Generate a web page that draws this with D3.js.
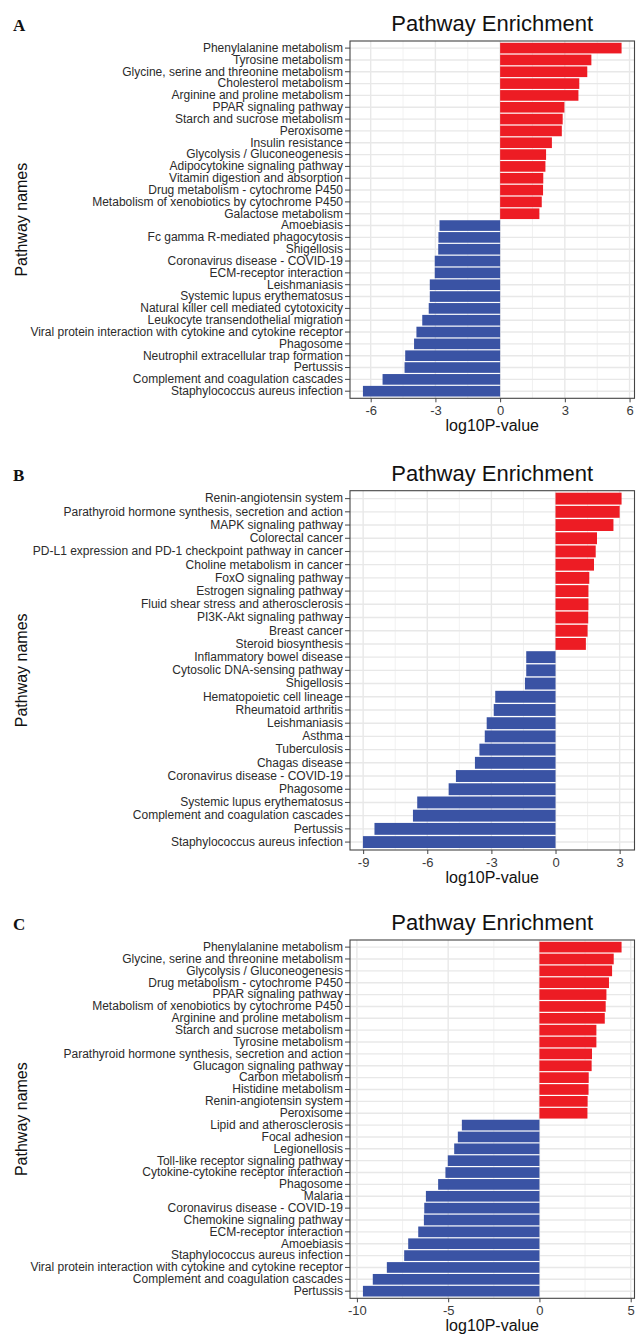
<!DOCTYPE html>
<html>
<head>
<meta charset="utf-8">
<script src="https://cdn.jsdelivr.net/npm/d3@7"></script>
<style>
  html, body { margin: 0; padding: 0; background: #ffffff; }
  svg { display: block; font-family: "Liberation Sans", Arial, sans-serif; }
</style>
</head>
<body>
<svg id="chart" width="636" height="1334"></svg>
<script>
// ---- Panel A ----
const pathwaysA = [
  "Phenylalanine metabolism",
  "Tyrosine metabolism",
  "Glycine, serine and threonine metabolism",
  "Cholesterol metabolism",
  "Arginine and proline metabolism",
  "PPAR signaling pathway",
  "Starch and sucrose metabolism",
  "Peroxisome",
  "Insulin resistance",
  "Glycolysis / Gluconeogenesis",
  "Adipocytokine signaling pathway",
  "Vitamin digestion and absorption",
  "Drug metabolism - cytochrome P450",
  "Metabolism of xenobiotics by cytochrome P450",
  "Galactose metabolism",
  "Amoebiasis",
  "Fc gamma R-mediated phagocytosis",
  "Shigellosis",
  "Coronavirus disease - COVID-19",
  "ECM-receptor interaction",
  "Leishmaniasis",
  "Systemic lupus erythematosus",
  "Natural killer cell mediated cytotoxicity",
  "Leukocyte transendothelial migration",
  "Viral protein interaction with cytokine and cytokine receptor",
  "Phagosome",
  "Neutrophil extracellular trap formation",
  "Pertussis",
  "Complement and coagulation cascades",
  "Staphylococcus aureus infection"
];
const log10pA = [
  5.63, 4.23, 4.04, 3.67, 3.63, 2.98, 2.90, 2.86, 2.40, 2.13, 2.10, 2.00, 1.99, 1.93, 1.82,
  -2.81, -2.86, -2.87, -3.03, -3.03, -3.26, -3.26, -3.31, -3.61, -3.88, -3.99, -4.40, -4.43, -5.45, -6.36
];
const ticksA = [-6, -3, 0, 3, 6];

// ---- Panel B ----
const pathwaysB = [
  "Renin-angiotensin system",
  "Parathyroid hormone synthesis, secretion and action",
  "MAPK signaling pathway",
  "Colorectal cancer",
  "PD-L1 expression and PD-1 checkpoint pathway in cancer",
  "Choline metabolism in cancer",
  "FoxO signaling pathway",
  "Estrogen signaling pathway",
  "Fluid shear stress and atherosclerosis",
  "PI3K-Akt signaling pathway",
  "Breast cancer",
  "Steroid biosynthesis",
  "Inflammatory bowel disease",
  "Cytosolic DNA-sensing pathway",
  "Shigellosis",
  "Hematopoietic cell lineage",
  "Rheumatoid arthritis",
  "Leishmaniasis",
  "Asthma",
  "Tuberculosis",
  "Chagas disease",
  "Coronavirus disease - COVID-19",
  "Phagosome",
  "Systemic lupus erythematosus",
  "Complement and coagulation cascades",
  "Pertussis",
  "Staphylococcus aureus infection"
];
const log10pB = [
  3.09, 3.00, 2.71, 1.94, 1.88, 1.80, 1.58, 1.54, 1.54, 1.53, 1.50, 1.42,
  -1.37, -1.37, -1.43, -2.82, -2.89, -3.22, -3.31, -3.56, -3.77, -4.66, -5.00, -6.47, -6.67, -8.47, -9.01
];
const ticksB = [-9, -6, -3, 0, 3];

// ---- Panel C ----
const pathwaysC = [
  "Phenylalanine metabolism",
  "Glycine, serine and threonine metabolism",
  "Glycolysis / Gluconeogenesis",
  "Drug metabolism - cytochrome P450",
  "PPAR signaling pathway",
  "Metabolism of xenobiotics by cytochrome P450",
  "Arginine and proline metabolism",
  "Starch and sucrose metabolism",
  "Tyrosine metabolism",
  "Parathyroid hormone synthesis, secretion and action",
  "Glucagon signaling pathway",
  "Carbon metabolism",
  "Histidine metabolism",
  "Renin-angiotensin system",
  "Peroxisome",
  "Lipid and atherosclerosis",
  "Focal adhesion",
  "Legionellosis",
  "Toll-like receptor signaling pathway",
  "Cytokine-cytokine receptor interaction",
  "Phagosome",
  "Malaria",
  "Coronavirus disease - COVID-19",
  "Chemokine signaling pathway",
  "ECM-receptor interaction",
  "Amoebiasis",
  "Staphylococcus aureus infection",
  "Viral protein interaction with cytokine and cytokine receptor",
  "Complement and coagulation cascades",
  "Pertussis"
];
const log10pC = [
  4.50, 4.07, 3.98, 3.81, 3.67, 3.63, 3.58, 3.12, 3.12, 2.88, 2.86, 2.70, 2.69, 2.64, 2.63,
  -4.25, -4.47, -4.67, -5.02, -5.15, -5.55, -6.22, -6.31, -6.33, -6.64, -7.19, -7.41, -8.36, -9.13, -9.67
];
const ticksC = [-10, -5, 0, 5];

const panelLetters = ["A", "B", "C"];
const titleText = "Pathway Enrichment";
const xTitle = "log10P-value";
const yTitle = "Pathway names";

const upColor = "#ED1C24";
const downColor = "#3A53A4";

const svg = d3.select("#chart");

function drawPanel(letter, names, values, ticks, top, bottom) {
  const left = 350, right = 634.5;
  const g = svg.append("g");

  // continuous axis: data range (bars start at 0) widened by 5% on each side
  const ext = d3.extent(values.concat([0]));
  const pad = (ext[1] - ext[0]) * 0.05;
  const x = d3.scaleLinear().domain([ext[0] - pad, ext[1] + pad]).range([left, right]);
  const y = d3.scaleBand().domain(names).range([top, bottom])
    .paddingInner(0.1).paddingOuter(0.15);

  // minor grid halfway between major ticks
  const step = ticks[1] - ticks[0];
  const [d0, d1] = x.domain();
  const minor = d3.range(ticks[0] - step / 2, ticks[ticks.length - 1] + step, step)
    .filter(v => v >= d0 && v <= d1);

  g.append("g").selectAll("line").data(minor).join("line")
    .attr("x1", d => x(d)).attr("x2", d => x(d))
    .attr("y1", top).attr("y2", bottom)
    .attr("stroke", "#EDEDED").attr("stroke-width", 0.8);

  g.append("g").selectAll("line").data(ticks.filter(v => v >= d0 && v <= d1)).join("line")
    .attr("x1", d => x(d)).attr("x2", d => x(d))
    .attr("y1", top).attr("y2", bottom)
    .attr("stroke", "#E8E8E8").attr("stroke-width", 1.4);

  g.append("g").selectAll("line").data(names).join("line")
    .attr("x1", left).attr("x2", right)
    .attr("y1", d => y(d) + y.bandwidth() / 2).attr("y2", d => y(d) + y.bandwidth() / 2)
    .attr("stroke", "#E8E8E8").attr("stroke-width", 1.4);

  // bars
  g.append("g").selectAll("rect").data(names).join("rect")
    .attr("x", (d, i) => x(Math.min(0, values[i])))
    .attr("width", (d, i) => Math.abs(x(values[i]) - x(0)))
    .attr("y", d => y(d))
    .attr("height", y.bandwidth())
    .attr("fill", (d, i) => values[i] >= 0 ? upColor : downColor);

  // panel border
  g.append("rect")
    .attr("x", left).attr("y", top)
    .attr("width", right - left).attr("height", bottom - top)
    .attr("fill", "none").attr("stroke", "#444").attr("stroke-width", 1.1);

  // y axis (pathway names)
  const ya = g.append("g").attr("transform", `translate(${left},0)`)
    .call(d3.axisLeft(y).tickSize(5).tickPadding(2));
  ya.select(".domain").remove();
  ya.selectAll(".tick line").attr("stroke", "#444").attr("stroke-width", 1);
  ya.selectAll(".tick text")
    .attr("font-size", 12).attr("fill", "#2b2b2b")
    .attr("font-family", "'Liberation Sans', Arial, sans-serif");

  // x axis
  const xa = g.append("g").attr("transform", `translate(0,${bottom})`)
    .call(d3.axisBottom(x).tickValues(ticks).tickSize(4).tickPadding(3.4)
      .tickFormat(d => String(d)));
  xa.select(".domain").remove();
  xa.selectAll(".tick line").attr("stroke", "#444").attr("stroke-width", 1);
  xa.selectAll(".tick text")
    .attr("font-size", 13).attr("fill", "#3a3a3a")
    .attr("font-family", "'Liberation Sans', Arial, sans-serif");

  // titles
  g.append("text")
    .attr("x", (left + right) / 2).attr("y", top - 10)
    .attr("text-anchor", "middle").attr("font-size", 22).attr("fill", "#111")
    .text(titleText);

  g.append("text")
    .attr("x", (left + right) / 2).attr("y", bottom + 33)
    .attr("text-anchor", "middle").attr("font-size", 16).attr("fill", "#111")
    .text(xTitle);

  g.append("text")
    .attr("transform", `translate(27,${(top + bottom) / 2}) rotate(-90)`)
    .attr("text-anchor", "middle").attr("font-size", 16).attr("fill", "#111")
    .text(yTitle);

  g.append("text")
    .attr("x", 13).attr("y", top - 10)
    .attr("font-family", "'Liberation Serif', 'Times New Roman', serif")
    .attr("font-weight", "bold").attr("font-size", 17).attr("fill", "#111")
    .text(letter);
}

drawPanel(panelLetters[0], pathwaysA, log10pA, ticksA, 41, 398.3);
drawPanel(panelLetters[1], pathwaysB, log10pB, ticksB, 490.7, 850);
drawPanel(panelLetters[2], pathwaysC, log10pC, ticksC, 940, 1298.3);
</script>
</body>
</html>
